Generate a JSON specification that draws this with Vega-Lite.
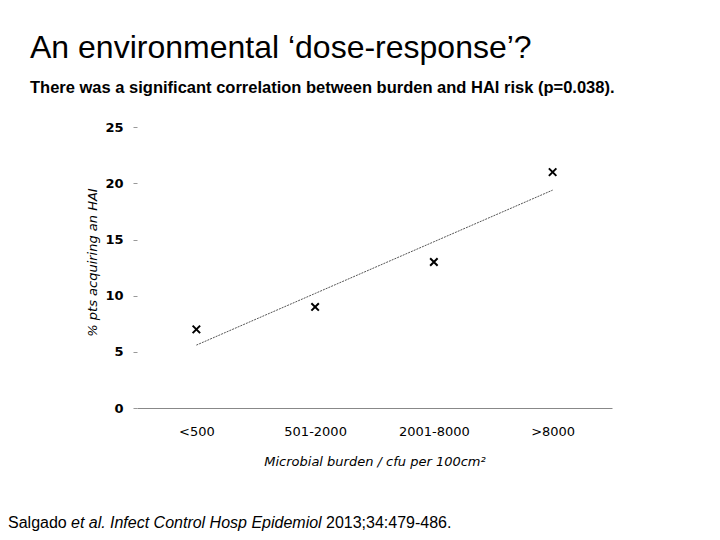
{
  "$schema": "https://vega.github.io/schema/vega-lite/v6.json",
  "width": 475,
  "height": 292,
  "autosize": {"type": "none"},
  "padding": {"left": 137, "top": 116, "right": 108, "bottom": 132},
  "background": "white",
  "title": {
    "text": "An environmental ‘dose-response’?",
    "subtitle": "There was a significant correlation between burden and HAI risk (p=0.038).",
    "anchor": "start",
    "frame": "group",
    "dx": -107,
    "offset": 19,
    "font": "Liberation Sans",
    "fontSize": 32,
    "fontWeight": "normal",
    "color": "#000",
    "subtitleFont": "Liberation Sans",
    "subtitleFontSize": 16.5,
    "subtitleFontWeight": "bold",
    "subtitleColor": "#000",
    "subtitlePadding": 15
  },
  "layer": [
    {
      "data": {"name": "hai"},
      "mark": {"type": "line", "color": "#555", "strokeWidth": 1, "strokeDash": [2, 1]},
      "encoding": {
        "x": {
          "field": "burden",
          "type": "ordinal",
          "sort": null,
          "scale": {"type": "point", "padding": 0.5},
          "axis": {
            "title": "Microbial burden / cfu per 100cm²",
            "titleFont": "DejaVu Sans",
            "titleFontSize": 13,
            "titleFontStyle": "italic",
            "titleFontWeight": "normal",
            "titleColor": "#000",
            "titlePadding": 17,
            "labelFont": "DejaVu Sans",
            "labelFontSize": 13,
            "labelColor": "#000",
            "labelAngle": 0,
            "labelPadding": 17,
            "ticks": false,
            "domainColor": "#888",
            "grid": false
          }
        },
        "y": {
          "field": "trend",
          "type": "quantitative",
          "scale": {"domain": [0, 25]},
          "axis": {
            "title": "% pts acquiring an HAI",
            "titleFont": "DejaVu Sans",
            "titleFontSize": 13,
            "titleFontStyle": "italic",
            "titleFontWeight": "normal",
            "titleColor": "#000",
            "titlePadding": 5,
            "labelFont": "DejaVu Sans",
            "labelFontSize": 13,
            "labelFontWeight": "bold",
            "labelColor": "#000",
            "labelPadding": 10,
            "values": [0, 5, 10, 15, 20, 25],
            "tickSize": 4,
            "tickColor": "#999",
            "domain": false,
            "grid": false
          }
        }
      }
    },
    {
      "data": {"name": "hai"},
      "mark": {
        "type": "point",
        "shape": "M-1,-1L1,1M-1,1L1,-1",
        "filled": false,
        "stroke": "#000",
        "strokeWidth": 2,
        "size": 56,
        "opacity": 1
      },
      "encoding": {
        "x": {"field": "burden", "type": "ordinal", "sort": null},
        "y": {"field": "pct", "type": "quantitative"}
      }
    },
    {
      "data": {"values": [{}]},
      "mark": {"type": "text", "text": "Salgado", "x": -129, "y": 412, "align": "left", "baseline": "alphabetic", "font": "Liberation Sans", "fontSize": 16, "color": "#000"},
      "encoding": {}
    },
    {
      "data": {"values": [{}]},
      "mark": {"type": "text", "text": "et al.", "x": -66, "y": 412, "align": "left", "baseline": "alphabetic", "font": "Liberation Sans", "fontSize": 16, "fontStyle": "italic", "color": "#000"},
      "encoding": {}
    },
    {
      "data": {"values": [{}]},
      "mark": {"type": "text", "text": "Infect Control Hosp Epidemiol", "x": -27, "y": 412, "align": "left", "baseline": "alphabetic", "font": "Liberation Sans", "fontSize": 16, "fontStyle": "italic", "color": "#000"},
      "encoding": {}
    },
    {
      "data": {"values": [{}]},
      "mark": {"type": "text", "text": "2013;34:479-486.", "x": 189, "y": 412, "align": "left", "baseline": "alphabetic", "font": "Liberation Sans", "fontSize": 16, "color": "#000"},
      "encoding": {}
    }
  ],
  "datasets": {
    "hai": [
      {"burden": "<500", "pct": 7, "trend": 5.6},
      {"burden": "501-2000", "pct": 9, "trend": 10.2},
      {"burden": "2001-8000", "pct": 13, "trend": 14.8},
      {"burden": ">8000", "pct": 21, "trend": 19.4}
    ]
  },
  "config": {
    "view": {"stroke": null}
  }
}
